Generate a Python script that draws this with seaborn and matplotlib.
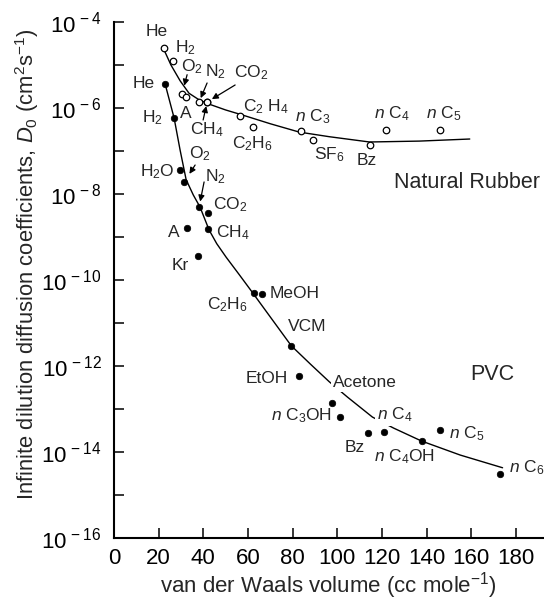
import matplotlib
matplotlib.use("Agg")
import matplotlib.pyplot as plt
from matplotlib.ticker import NullLocator, FixedLocator, FixedFormatter
import numpy as np
import pandas as pd
import seaborn as sns

# ---------------- data ----------------
nr_species = ["He", "H2", "O2", "A", "N2", "CO2", "CH4", "C2H4", "C2H6",
              "nC3", "SF6", "Bz", "nC4", "nC5"]
nr_labels = ["He", "H$_2$", "O$_2$", "A", "N$_2$", "CO$_2$", "CH$_4$",
             "C$_2$ H$_4$", "C$_2$H$_6$", "$n$ C$_3$", "SF$_6$", "Bz",
             "$n$ C$_4$", "$n$ C$_5$"]
nr_volume = [22.4, 26.4, 30.5, 32.3, 38.1, 41.7, 41.7, 56.5, 62.3,
             83.8, 89.2, 114.8, 122.0, 145.8]
nr_D = [2.5e-5, 1.23e-5, 2.15e-6, 1.8e-6, 1.38e-6, 1.38e-6, 1.38e-6,
        6.5e-7, 3.6e-7, 2.95e-7, 1.8e-7, 1.38e-7, 3.1e-7, 3.1e-7]

nr_fit_volume = [22.0, 25.5, 29.6, 33.6, 38.1, 42.6, 50.0, 57.4, 70.0,
                 83.0, 96.4, 114.4, 136.8, 159.3]
nr_fit_D = [2.5e-5, 1.0e-5, 4.3e-6, 2.2e-6, 1.55e-6, 1.23e-6, 9.0e-7,
            6.9e-7, 4.3e-7, 2.75e-7, 2.15e-7, 1.62e-7, 1.7e-7, 1.9e-7]

pvc_species = ["He", "H2", "H2O", "O2", "N2", "CO2", "A", "CH4", "Kr",
               "C2H6", "MeOH", "VCM", "EtOH", "Acetone", "nC3OH", "Bz",
               "nC4", "nC4OH", "nC5", "nC6"]
pvc_labels = ["He", "H$_2$", "H$_2$O", "O$_2$", "N$_2$", "CO$_2$", "A",
              "CH$_4$", "Kr", "C$_2$H$_6$", "MeOH", "VCM", "EtOH",
              "Acetone", "$n$ C$_3$OH", "Bz", "$n$ C$_4$", "$n$ C$_4$OH",
              "$n$ C$_5$", "$n$ C$_6$"]
pvc_volume = [22.9, 26.9, 29.6, 31.4, 38.1, 42.1, 32.7, 42.1, 37.6,
              62.8, 66.4, 79.4, 83.0, 97.8, 101.3, 113.9, 121.1, 137.7,
              146.2, 172.7]
pvc_D = [3.6e-6, 5.9e-7, 3.6e-8, 1.9e-8, 5.0e-9, 3.6e-9, 1.6e-9, 1.55e-9,
         3.6e-10, 5.0e-11, 4.7e-11, 2.95e-12, 5.9e-13, 1.38e-13, 6.5e-14,
         2.75e-14, 2.95e-14, 1.8e-14, 3.2e-14, 3.1e-15]

pvc_fit_volume = [22.9, 26.9, 29.6, 32.3, 35.5, 38.5, 42.6, 46.0, 50.2,
                  56.0, 61.9, 79.4, 88.0, 96.4, 104.5, 115.7,
                  125.2, 137.7, 155.0, 174.0]
pvc_fit_D = [3.6e-6, 5.9e-7, 1.05e-7, 2.15e-8, 9.5e-9, 5.0e-9, 1.45e-9,
             7.0e-10, 3.4e-10, 1.35e-10, 5.2e-11, 2.95e-12, 1.1e-12,
             4.3e-13, 1.9e-13, 6.5e-14, 3.6e-14, 1.8e-14, 8.5e-15, 4.3e-15]

x_ticks = [0, 20, 40, 60, 80, 100, 120, 140, 160, 180]
y_exponents = [-4, -5, -6, -7, -8, -9, -10, -11, -12, -13, -14, -15, -16]

# ---------------- layout / style (not data) ----------------
# label offsets in pixels relative to the marker (dx, dy; y up)
nr_offsets = {"He": (-7, 16), "H2": (12, 13), "O2": (10, 27), "A": (0, -16),
              "N2": (16, 30), "CO2": (44, 29), "CH4": (0, -28),
              "C2H4": (26, 9), "C2H6": (-1, -17), "nC3": (12, 14),
              "SF6": (16, -15), "Bz": (-4, -16), "nC4": (5, 16),
              "nC5": (4, 16)}
pvc_offsets = {"He": (-21, 1), "H2": (-22, 0), "H2O": (-23, -2),
               "O2": (16, 28), "N2": (16, 30), "CO2": (22, 8),
               "A": (-13, -4), "CH4": (25, -4), "Kr": (-18, -9),
               "C2H6": (-27, -12), "MeOH": (32, 1), "VCM": (16, 19),
               "EtOH": (-33, -3), "Acetone": (32, 20), "nC3OH": (-39, 1),
               "Bz": (-14, -14), "nC4": (10, 17), "nC4OH": (-17, -16),
               "nC5": (26, -3), "nC6": (27, 6)}
# arrows: start offset (pixels) and gap before the marker (points)
nr_arrows = {"O2": ((5, 19), 6), "N2": ((8, 19), 3), "CO2": ((28, 17), 4),
             "CH4": ((-4, -18), 3)}
pvc_arrows = {"O2": ((11, 17), 7), "N2": ((5, 25), 4)}
white_box = {"Acetone", "nC4"}

sns.set_style("ticks")
plt.rcParams["font.family"] = ["Liberation Sans", "DejaVu Sans"]
plt.rcParams["mathtext.fontset"] = "custom"
plt.rcParams["mathtext.rm"] = "Liberation Sans"
plt.rcParams["mathtext.it"] = "Liberation Sans:italic"
plt.rcParams["mathtext.bf"] = "Liberation Sans:bold"

fig = plt.figure(figsize=(5.44, 6.0), dpi=100)
ax = fig.add_axes([114 / 544, 1 - 538 / 600, 429 / 544, 516 / 600])

sns.lineplot(x=nr_fit_volume, y=nr_fit_D, ax=ax, color="black", lw=1.0,
             sort=False, estimator=None, zorder=2)
sns.lineplot(x=pvc_fit_volume, y=pvc_fit_D, ax=ax, color="black", lw=1.0,
             sort=False, estimator=None, zorder=2)
sns.scatterplot(x=nr_volume, y=nr_D, ax=ax, marker="o", facecolor="white",
                edgecolor="black", s=22, linewidth=0.9, zorder=4)
sns.scatterplot(x=pvc_volume, y=pvc_D, ax=ax, marker="o", color="black",
                edgecolor="black", s=22, linewidth=0.5, zorder=4)

ax.set_yscale("log")
ax.set_ylim(1e-16, 1e-4)
ax.set_xlim(0, 192.1)
ax.yaxis.set_major_locator(FixedLocator([10.0 ** e for e in y_exponents]))
ax.yaxis.set_major_formatter(FixedFormatter(
    [r"$10^{\,%d}$" % e if e % 2 == 0 else "" for e in y_exponents]))
ax.yaxis.set_minor_locator(NullLocator())
ax.set_xticks(x_ticks)
ax.set_xticklabels([str(t) for t in x_ticks])
ax.tick_params(direction="in", length=7, width=1.1, labelsize=16,
               colors="black")
ax.tick_params(axis="x", pad=7)
ax.tick_params(axis="y", pad=9)
sns.despine(ax=ax)
for s in ("left", "bottom"):
    ax.spines[s].set_linewidth(1.5)
    ax.spines[s].set_color("black")

ax.set_xlabel("van der Waals volume (cc mole$^{-1}$)", fontsize=16)
ax.set_ylabel(r"Infinite dilution diffusion coefficients, $D_0$ (cm$^2$s$^{-1}$)",
              fontsize=15.8)
ax.xaxis.set_label_coords(0.5, -0.063)
ax.yaxis.set_label_coords(-0.17, 0.53)

def place(species, labels, xs, ys, offsets, arrows):
    for sp, lab, x, y in zip(species, labels, xs, ys):
        dx, dy = offsets[sp]
        kw = {}
        if sp in white_box:
            kw["bbox"] = dict(boxstyle="square,pad=0.1", fc="white", ec="none")
        ax.annotate(lab, xy=(x, y), xytext=(dx, dy), textcoords="offset pixels",
                    ha="center", va="center", fontsize=12.5, zorder=5, **kw)
        if sp in arrows:
            (ax_, ay_), gap = arrows[sp]
            ax.annotate("", xy=(x, y), xytext=(ax_, ay_),
                        textcoords="offset pixels", zorder=5,
                        arrowprops=dict(arrowstyle="-|>", color="black",
                                        lw=0.9, mutation_scale=9,
                                        shrinkA=0, shrinkB=gap))

place(nr_species, nr_labels, nr_volume, nr_D, nr_offsets, nr_arrows)
place(pvc_species, pvc_labels, pvc_volume, pvc_D, pvc_offsets, pvc_arrows)

ax.text(0.823, 0.688, "Natural Rubber", transform=ax.transAxes,
        ha="center", va="center", fontsize=15.5)
ax.text(0.881, 0.316, "PVC", transform=ax.transAxes,
        ha="center", va="center", fontsize=15.5)

fig.savefig("out.png", dpi=100)
